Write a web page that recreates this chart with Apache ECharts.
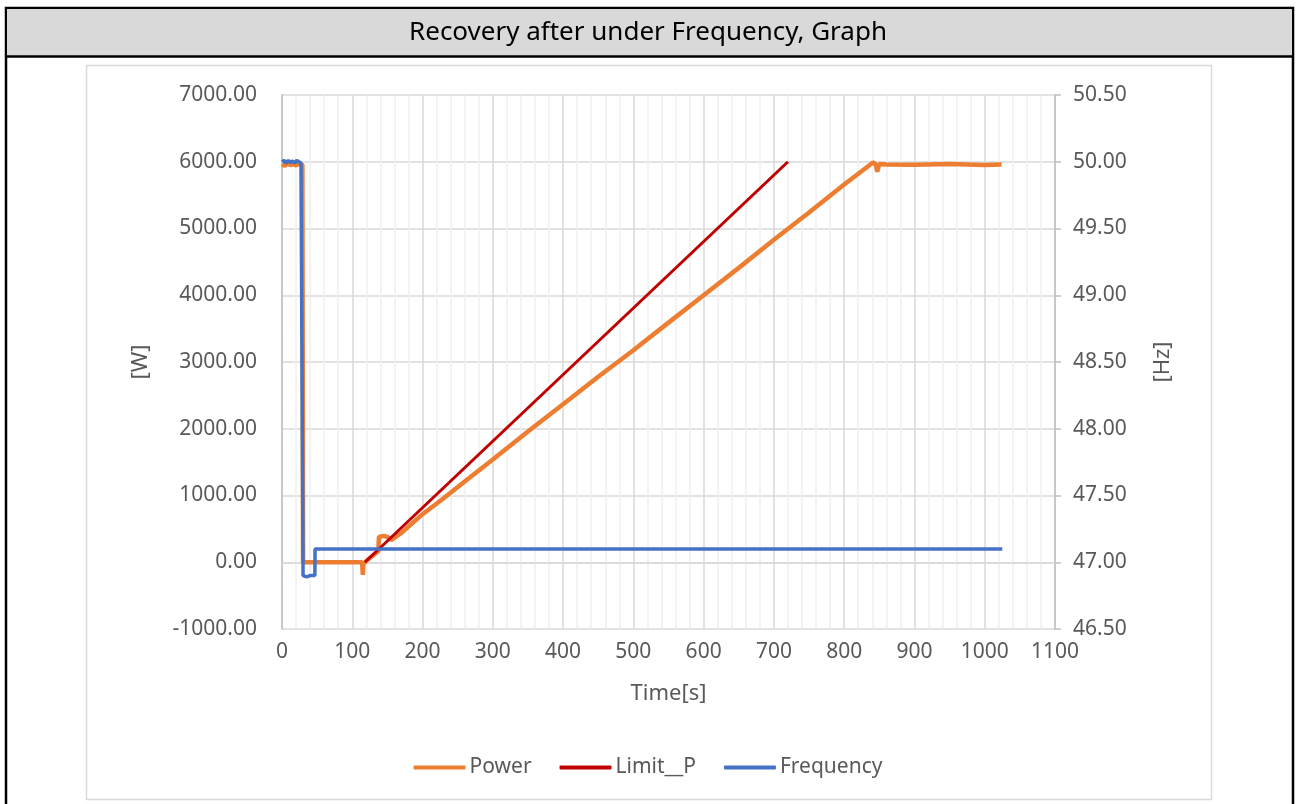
<!DOCTYPE html>
<html>
<head>
<meta charset="utf-8">
<script src="https://cdn.jsdelivr.net/npm/echarts@6/dist/echarts.min.js"></script>
<style>
  html, body { margin: 0; padding: 0; background: #fff; }
  #main { width: 1296px; height: 804px; }
</style>
</head>
<body>
<div id="main"></div>
<script>
// power measured at the output [W]
var powerTime = [0, 4, 8, 12, 16, 20, 24, 29, 30, 60, 90, 114, 115, 116, 117, 125, 133, 137, 138, 145, 152, 155, 156, 170, 200, 230, 260, 300, 350, 410, 450, 500, 550, 600, 650, 700, 750, 800, 841, 845, 847, 850, 860, 900, 950, 1000, 1024];
var powerValue = [5960, 5940, 5975, 5950, 5965, 5945, 5970, 5955, 0, 0, 0, 0, -190, -20, 0, 65, 130, 165, 380, 395, 370, 330, 320, 440, 720, 960, 1210, 1540, 1960, 2450, 2780, 3176, 3590, 4000, 4410, 4830, 5240, 5660, 5990, 5960, 5850, 5965, 5960, 5955, 5965, 5950, 5960];

// limit curve [W]
var limitTime = [118, 720];
var limitValue = [0, 6000];

// grid frequency [Hz]
var freqTime = [0, 3, 6, 9, 12, 15, 18, 21, 24, 27, 29.8, 30, 35, 40, 46.8, 47, 1025];
var freqValue = [50.0, 50.01, 49.99, 50.01, 49.995, 50.005, 49.99, 50.01, 50.0, 49.99, 50.0, 46.9, 46.89, 46.9, 46.9, 47.1, 47.1];

var legendNames = ['Power', 'Limit__P', 'Frequency'];

function pairs(xs, ys) {
  var out = [];
  for (var i = 0; i < xs.length; i++) out.push([xs[i], ys[i]]);
  return out;
}

var font = 'Noto Sans';
var grey = '#595959';

var myChart = echarts.init(document.getElementById('main'));
var option = {
  animation: false,
  textStyle: { fontFamily: font },
  graphic: [
    { type: 'rect', shape: { x: 6, y: 8, width: 1287, height: 820 }, style: { fill: '#fff', stroke: '#000', lineWidth: 2.5 }, z: -10 },
    { type: 'rect', shape: { x: 7, y: 9, width: 1285, height: 47 }, style: { fill: '#d9d9d9', stroke: null }, z: -9 },
    { type: 'line', shape: { x1: 6, y1: 56.5, x2: 1293, y2: 56.5 }, style: { stroke: '#000', lineWidth: 2.5 }, z: -8 },
    { type: 'rect', shape: { x: 86.5, y: 65.5, width: 1125, height: 734 }, style: { fill: '#fff', stroke: '#d9d9d9', lineWidth: 1.5 }, z: -7 },
    { type: 'text', left: 'center', top: 20, style: { text: 'Recovery after under Frequency, Graph', font: '26px "Noto Sans"', fill: '#000' }, z: 10 }
  ],
  legend: {
    data: legendNames,
    left: 'center',
    top: 752,
    icon: 'roundRect',
    itemWidth: 52,
    itemHeight: 4,
    itemGap: 28,
    textStyle: { color: grey, fontSize: 21, fontFamily: font, padding: [0, 0, 0, -1] }
  },
  grid: { left: 282, right: 241, top: 95, bottom: 175 },
  xAxis: {
    type: 'value',
    min: 0,
    max: 1100,
    interval: 100,
    name: 'Time[s]',
    nameLocation: 'middle',
    nameGap: 54,
    nameTextStyle: { color: grey, fontSize: 22, fontFamily: font },
    axisLine: { lineStyle: { color: '#d9d9d9', width: 1.5 } },
    axisTick: { show: false },
    axisLabel: { color: grey, fontSize: 21, margin: 13, fontFamily: font, formatter: function (v) { return String(v); } },
    splitLine: { lineStyle: { color: '#d9d9d9', width: 1.5 } },
    minorTick: { show: false, splitNumber: 5 },
    minorSplitLine: { show: true, lineStyle: { color: '#f0f0f0', width: 1.5 } }
  },
  yAxis: [
    {
      type: 'value',
      min: -1000,
      max: 7000,
      interval: 1000,
      name: '[W]',
      nameLocation: 'middle',
      nameRotate: 90,
      nameGap: 130,
      nameTextStyle: { color: grey, fontSize: 22, fontFamily: font },
      axisLine: { show: true, lineStyle: { color: '#bfbfbf', width: 1.5 } },
      axisTick: { show: false },
      axisLabel: { color: grey, fontSize: 21, margin: 25, fontFamily: font, formatter: function (v) { return v.toFixed(2); } },
      splitLine: { lineStyle: { color: '#d9d9d9', width: 1.5 } }
    },
    {
      type: 'value',
      min: 46.5,
      max: 50.5,
      interval: 0.5,
      name: '[Hz]',
      nameLocation: 'middle',
      nameRotate: 90,
      nameGap: 97,
      nameTextStyle: { color: grey, fontSize: 22, fontFamily: font },
      axisLine: { show: true, lineStyle: { color: '#bfbfbf', width: 1.5 } },
      axisTick: { show: true, length: 6, lineStyle: { color: '#bfbfbf', width: 1.5 } },
      axisLabel: { color: grey, fontSize: 21, margin: 18, fontFamily: font, formatter: function (v) { return v.toFixed(2); } },
      splitLine: { show: false }
    }
  ],
  series: [
    {
      name: 'Power',
      type: 'line',
      yAxisIndex: 0,
      showSymbol: false,
      data: pairs(powerTime, powerValue),
      itemStyle: { color: '#ed7d31' },
      lineStyle: { color: '#ed7d31', width: 4.5 }
    },
    {
      name: 'Limit__P',
      type: 'line',
      yAxisIndex: 0,
      showSymbol: false,
      data: pairs(limitTime, limitValue),
      itemStyle: { color: '#c00000' },
      lineStyle: { color: '#c00000', width: 3 }
    },
    {
      name: 'Frequency',
      type: 'line',
      yAxisIndex: 1,
      showSymbol: false,
      data: pairs(freqTime, freqValue),
      itemStyle: { color: '#4472c4' },
      lineStyle: { color: '#4472c4', width: 3.5 }
    }
  ]
};
myChart.setOption(option, true);
</script>
</body>
</html>
